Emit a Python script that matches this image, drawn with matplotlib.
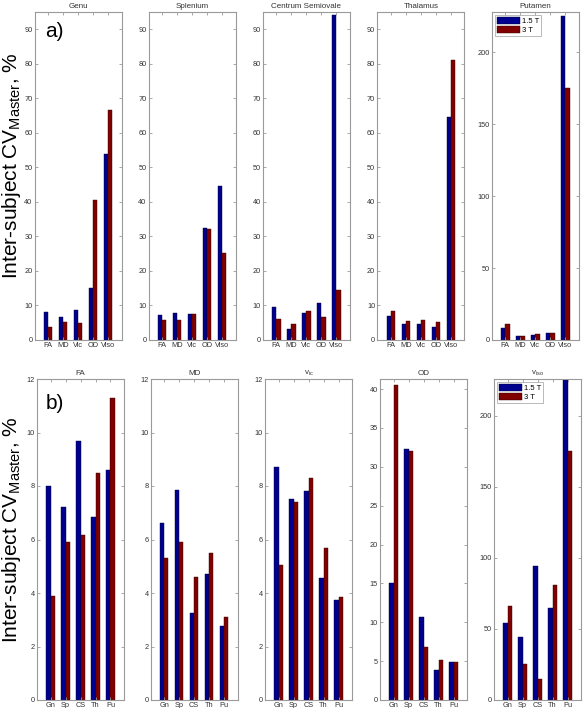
import matplotlib
matplotlib.use('Agg')
import matplotlib.pyplot as plt
import numpy as np

plt.rcParams['font.family'] = ['Liberation Sans', 'DejaVu Sans']
plt.rcParams['mathtext.fontset'] = 'custom'
plt.rcParams['mathtext.rm'] = 'Liberation Sans'
plt.rcParams['mathtext.it'] = 'Liberation Sans'

# ── Data: inter-subject CV (%) per region x metric ──
regions = ['Genu', 'Splenium', 'Centrum Semiovale', 'Thalamus', 'Putamen']
region_abbr = ['Gn', 'Sp', 'CS', 'Th', 'Pu']
metrics = ['FA', 'MD', 'Vic', 'OD', 'Viso']
metric_titles = ['FA', 'MD', r'$\mathregular{v_{ic}}$', 'OD', r'$\mathregular{v_{iso}}$']
series = ['1.5 T', '3 T']

# rows = regions, cols = metrics
cv_15T = np.array([
    [8.0, 6.6, 8.7, 15.1, 54.0],
    [7.2, 7.85, 7.5, 32.3, 44.5],
    [9.7, 3.25, 7.8, 10.7, 94.0],
    [6.85, 4.7, 4.55, 3.85, 64.7],
    [8.6, 2.75, 3.75, 4.85, 225.5],
])
cv_3T = np.array([
    [3.9, 5.3, 5.05, 40.5, 66.5],
    [5.9, 5.9, 7.4, 32.1, 25.3],
    [6.15, 4.6, 8.3, 6.8, 14.5],
    [8.5, 5.5, 5.7, 5.2, 81.0],
    [11.3, 3.1, 3.85, 4.95, 175.5],
])

BLUE = '#00008f'
RED = '#800000'
FRAME = '#9a9a9a'
TXT = '#333333'

W, H = 583, 708
fig = plt.figure(figsize=(W / 100, H / 100), dpi=100)


def px_axes(left, top, right, bottom):
    return fig.add_axes([left / W, 1 - bottom / H, (right - left) / W, (bottom - top) / H])


def style(ax, xlabels, ylim, yticks, title):
    x = np.arange(1, 6)
    ax.set_xlim(0.1, 5.9)
    ax.set_ylim(*ylim)
    ax.set_yticks(yticks)
    ax.set_xticks(x)
    ax.set_xticklabels(xlabels)
    for s in ax.spines.values():
        s.set_color(FRAME)
        s.set_linewidth(0.8)
    ax.tick_params(direction='in', length=2.5, width=0.6, color=FRAME,
                   top=True, right=True, labelsize=5.3, labelcolor=TXT, pad=1.5)
    ax.set_title(title, fontsize=5.8, color=TXT, pad=3)


def draw(ax, a, b):
    x = np.arange(1, 6)
    w = 0.286
    ax.bar(x - w / 2, a, w, color=BLUE, edgecolor='#000030', linewidth=0.3, label=series[0])
    ax.bar(x + w / 2, b, w, color=RED, edgecolor='#300000', linewidth=0.3, label=series[1])


def legend(ax):
    leg = ax.legend(loc='upper left', fontsize=5.5, frameon=True, fancybox=False,
                    edgecolor=FRAME, handlelength=3, handleheight=1.0,
                    handletextpad=0.2, borderpad=0.3, labelspacing=0.1,
                    borderaxespad=0.4)
    leg.get_frame().set_linewidth(0.6)


# top row: per region
top_lefts = [34.6, 148.7, 262.8, 377.3, 491.8]
for i, reg in enumerate(regions):
    ax = px_axes(top_lefts[i], 12, top_lefts[i] + 87, 340)
    draw(ax, cv_15T[i], cv_3T[i])
    if i == 4:
        style(ax, metrics, (0, 228), [0, 50, 100, 150, 200], reg)
        legend(ax)
    else:
        style(ax, metrics, (0, 95), np.arange(0, 91, 10), reg)
    if i == 0:
        ax.text(0.12, 0.94, 'a)', transform=ax.transAxes, fontsize=15,
                ha='left', va='center')

# bottom row: per metric
bot_lefts = [37, 150.6, 265, 380, 494]
bot_ylims = [(0, 12), (0, 12), (0, 12), (0, 41.3), (0, 226)]
bot_ticks = [np.arange(0, 13, 2), np.arange(0, 13, 2), np.arange(0, 13, 2),
             np.arange(0, 41, 5), [0, 50, 100, 150, 200]]
for j in range(5):
    ax = px_axes(bot_lefts[j], 379, bot_lefts[j] + 87, 700)
    draw(ax, cv_15T[:, j], cv_3T[:, j])
    style(ax, region_abbr, bot_ylims[j], bot_ticks[j], metric_titles[j])
    if j == 4:
        legend(ax)
    if j == 0:
        ax.text(0.1, 0.925, 'b)', transform=ax.transAxes, fontsize=15,
                ha='left', va='center')

ylabel = r'Inter-subject CV$_{\mathregular{Master}}$, %'
fig.text(12 / W, 1 - 166 / H, ylabel, rotation=90, fontsize=15,
         ha='center', va='center')
fig.text(12 / W, 1 - 530 / H, ylabel, rotation=90, fontsize=15,
         ha='center', va='center')

fig.savefig('out.png', dpi=100)
